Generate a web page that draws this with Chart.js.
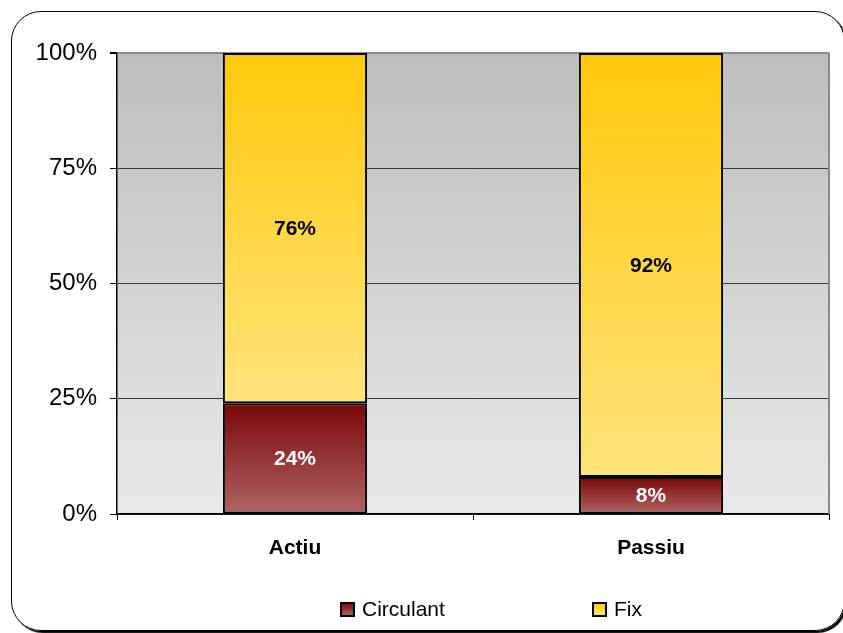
<!DOCTYPE html>
<html>
<head>
<meta charset="utf-8">
<script src="https://cdn.jsdelivr.net/npm/chart.js@4.4.1/dist/chart.umd.min.js"></script>
<style>
  html, body { margin:0; padding:0; width:843px; height:633px; overflow:hidden; background:#fff; }
  #frame { position:absolute; left:11px; top:11px; width:832px; height:618px; border:1.5px solid #000; border-radius:30px; box-shadow:2px 2px 1px #000; }
  #c { position:absolute; left:0; top:0; }
</style>
</head>
<body>
<div id="frame"></div>
<canvas id="c" width="843" height="633"></canvas>
<script>
const categories = ['Actiu', 'Passiu'];
const seriesNames = ['Circulant', 'Fix'];
const circulant = [24, 8];
const fix = [76, 92];
const yTicks = [0, 25, 50, 75, 100];

const palettes = {
  Circulant: { top: '#7a0808', bottom: '#b06464', label: '#ffffff' },
  Fix: { top: '#ffc80a', bottom: '#ffe47c', label: '#000000' }
};

function segmentGradient(c) {
  const chart = c.chart;
  const ds = chart.data.datasets[c.datasetIndex];
  const pal = palettes[ds.label];
  const ys = chart.scales && chart.scales.y;
  if (!ys || c.type !== 'data') return pal.top;
  let start = 0;
  for (let d = 0; d < c.datasetIndex; d++) start += chart.data.datasets[d].data[c.dataIndex];
  const end = start + ds.data[c.dataIndex];
  const y0 = ys.getPixelForValue(end), y1 = ys.getPixelForValue(start);
  if (!isFinite(y0) || !isFinite(y1) || y0 === y1) return pal.top;
  const g = chart.ctx.createLinearGradient(0, y0, 0, y1);
  g.addColorStop(0, pal.top);
  g.addColorStop(1, pal.bottom);
  return g;
}

const plotBg = {
  id: 'plotBg',
  beforeDraw(chart) {
    const a = chart.chartArea, ctx = chart.ctx;
    const g = ctx.createLinearGradient(0, a.top, 0, a.bottom);
    g.addColorStop(0, '#bdbdbd');
    g.addColorStop(1, '#e9e9e9');
    ctx.save();
    ctx.fillStyle = g;
    ctx.fillRect(a.left, a.top, a.right - a.left, a.bottom - a.top);
    ctx.restore();
  },
  beforeDatasetsDraw(chart) {
    const a = chart.chartArea, ctx = chart.ctx;
    ctx.save();
    ctx.strokeStyle = '#8a8a8a';
    ctx.lineWidth = 2;
    ctx.beginPath();
    ctx.moveTo(a.right, a.top);
    ctx.lineTo(a.right, a.bottom);
    ctx.stroke();
    ctx.restore();
  }
};

const valueLabels = {
  id: 'valueLabels',
  afterDatasetsDraw(chart) {
    const ctx = chart.ctx;
    ctx.save();
    ctx.font = 'bold 21px "Liberation Sans", Arial, sans-serif';
    ctx.textAlign = 'center';
    ctx.textBaseline = 'middle';
    chart.data.datasets.forEach((ds, di) => {
      const meta = chart.getDatasetMeta(di);
      meta.data.forEach((el, i) => {
        ctx.fillStyle = palettes[ds.label].label;
        ctx.fillText(ds.data[i] + '%', el.x, (el.y + el.base) / 2 + 1);
      });
    });
    ctx.restore();
  }
};

const customLegend = {
  id: 'customLegend',
  afterDraw(chart) {
    const ctx = chart.ctx;
    const items = [{ x: 341 }, { x: 593 }];
    const y = 603, s = 13;
    ctx.save();
    ctx.font = '21px "Liberation Sans", Arial, sans-serif';
    ctx.textBaseline = 'middle';
    ctx.textAlign = 'left';
    chart.data.datasets.forEach((ds, di) => {
      const pal = palettes[ds.label];
      const x = items[di].x;
      const g = ctx.createLinearGradient(0, y, 0, y + s);
      g.addColorStop(0, pal.top);
      g.addColorStop(1, pal.bottom);
      ctx.fillStyle = g;
      ctx.fillRect(x, y, s, s);
      ctx.strokeStyle = '#000';
      ctx.lineWidth = 2;
      ctx.strokeRect(x, y, s, s);
      ctx.fillStyle = '#000';
      ctx.fillText(ds.label, x + 21, y + s / 2 + 1);
    });
    ctx.restore();
  }
};

new Chart(document.getElementById('c'), {
  type: 'bar',
  data: {
    labels: categories,
    datasets: [
      { label: seriesNames[0], data: circulant, backgroundColor: segmentGradient, borderColor: '#000', borderWidth: 2, borderSkipped: false },
      { label: seriesNames[1], data: fix, backgroundColor: segmentGradient, borderColor: '#000', borderWidth: 2, borderSkipped: false }
    ]
  },
  options: {
    responsive: false,
    devicePixelRatio: 1,
    animation: false,
    categoryPercentage: 1,
    barPercentage: 0.405,
    layout: { padding: { left: 0, top: 53, right: 14, bottom: 0 } },
    plugins: { legend: { display: false }, tooltip: { enabled: false } },
    scales: {
      x: {
        stacked: true,
        afterFit(s) { s.height = 119; },
        border: { color: '#000', width: 1.5 },
        grid: { display: true, drawOnChartArea: false, drawTicks: true, tickLength: 6, tickColor: '#000', offset: true },
        ticks: { color: '#000', padding: 16, font: { family: '"Liberation Sans", Arial, sans-serif', size: 21, weight: 'bold' } }
      },
      y: {
        stacked: true,
        min: 0, max: 100,
        afterFit(s) { s.width = 117; },
        afterBuildTicks(s) { s.ticks = yTicks.map(v => ({ value: v })); },
        border: { color: '#000', width: 1.5 },
        grid: {
          color: (c) => (c.tick && c.tick.value === 100 ? '#8a8a8a' : '#3a3a3a'),
          lineWidth: (c) => (c.tick && c.tick.value === 100 ? 2 : 1),
          tickColor: '#000', tickLength: 7
        },
        ticks: { color: '#000', padding: 13, font: { family: '"Liberation Sans", Arial, sans-serif', size: 24 }, callback: (v) => v + '%' }
      }
    }
  },
  plugins: [plotBg, valueLabels, customLegend]
});
</script>
</body>
</html>
